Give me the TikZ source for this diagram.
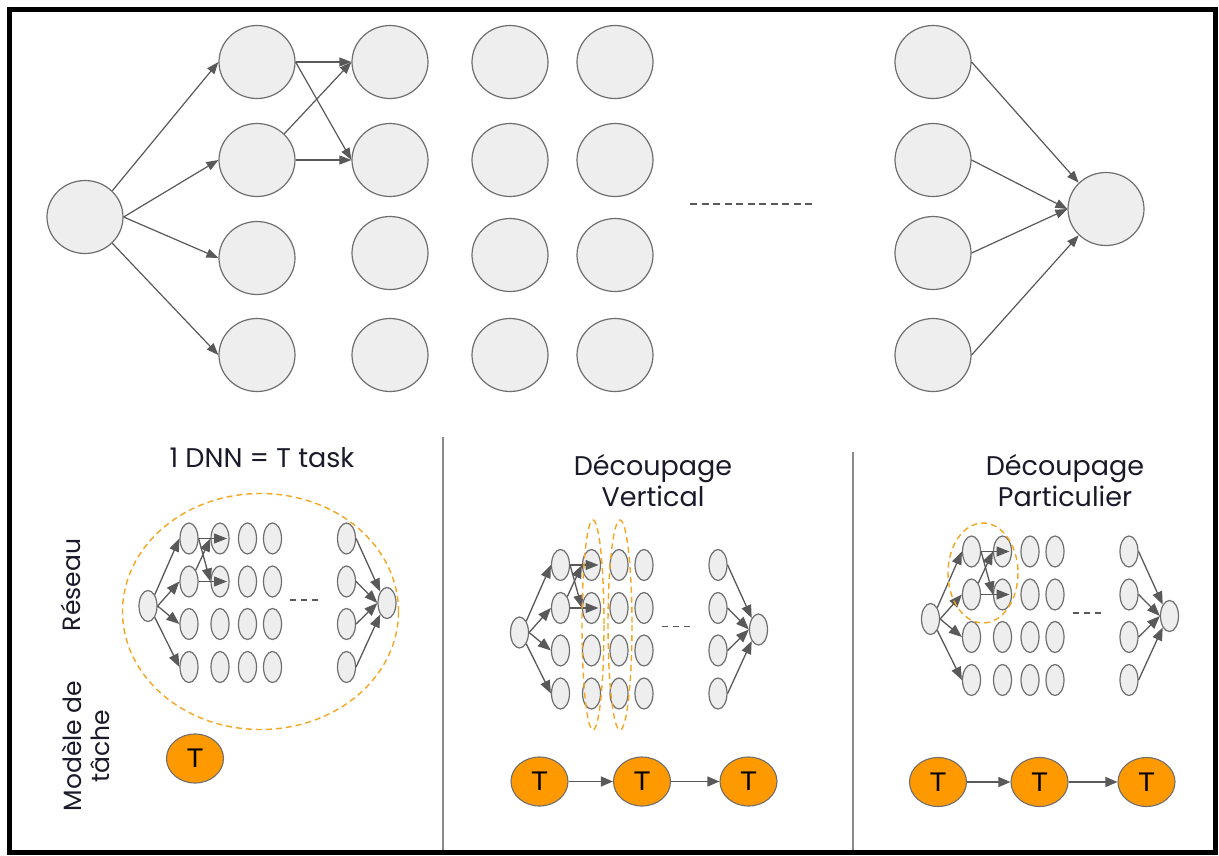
\documentclass[tikz,border=0pt]{standalone}
\usepackage{fontspec}
\setmainfont{Poppins}
\newfontfamily\tfont{Liberation Sans}
\usetikzlibrary{shapes.geometric,arrows.meta}
\definecolor{nodefill}{HTML}{EEEEEE}
\definecolor{nodeline}{HTML}{6E6E6E}
\definecolor{edgecol}{HTML}{595959}
\definecolor{torange}{HTML}{FF9900}
\definecolor{dorange}{HTML}{F5A623}
\definecolor{divcol}{HTML}{8A8A8A}
\definecolor{txtcol}{HTML}{1A1A2A}
\tikzset{
  bignode/.style={ellipse,draw=nodeline,fill=nodefill,line width=1.2pt,minimum width=76pt,minimum height=73pt,inner sep=0pt},
  smallnode/.style={ellipse,draw=nodeline,fill=nodefill,line width=1.2pt,minimum width=18pt,minimum height=31pt,inner sep=0pt},
  tasknode/.style={ellipse,draw=nodeline,fill=torange,line width=1.1pt,minimum width=57pt,minimum height=49pt,inner sep=0pt,font=\tfont\fontsize{27}{27}\selectfont},
  bigarrow/.style={draw=edgecol,line width=1.2pt,-{Triangle[length=12pt,width=9pt]}},
  smallarrow/.style={draw=edgecol,line width=1.3pt,-{Triangle[length=13pt,width=10pt]}},
  taskarrow/.style={draw=edgecol,line width=1.2pt,-{Triangle[length=12pt,width=10pt]}},
  orangedash/.style={draw=dorange,line width=1.4pt,dash pattern=on 6pt off 4pt},
  title/.style={font=\fontsize{27}{31}\selectfont,text=txtcol,align=center},
  sidelabel/.style={font=\fontsize{25}{28}\selectfont,text=txtcol,align=center,rotate=90},
}
\newcommand{\mynet}[3]{%
  \node[smallnode] (#1-in) at (#2,#3) {};
  \foreach \c/\dx in {1/41,2/72,3/99.5,4/124.5,5/198.5}{
    \foreach \r/\dy in {1/-67.5,2/-24.5,3/18,4/61}{
      \node[smallnode] (#1-\c-\r) at ({#2+\dx},{#3+\dy}) {};
    }
  }
  \node[smallnode] (#1-out) at ({#2+239},{#3-3}) {};
  \draw[smallarrow] (#1-in.north east) -- (#1-1-1.west);
  \draw[smallarrow] (#1-in.east) -- (#1-1-2.west);
  \draw[smallarrow] (#1-in.east) -- (#1-1-3.west);
  \draw[smallarrow] (#1-in.south east) -- (#1-1-4.west);
  \draw[smallarrow] (#1-5-1.east) -- (#1-out.north west);
  \draw[smallarrow] (#1-5-2.east) -- (#1-out.west);
  \draw[smallarrow] (#1-5-3.east) -- (#1-out.west);
  \draw[smallarrow] (#1-5-4.east) -- (#1-out.south west);
  \draw[smallarrow] (#1-1-1.east) -- ([xshift=7pt]#1-2-1.center);
  \draw[smallarrow] (#1-1-1.east) -- (#1-2-2.west);
  \draw[smallarrow] (#1-1-2.north east) -- (#1-2-1.west);
  \draw[smallarrow] (#1-1-2.east) -- ([xshift=7pt]#1-2-2.center);
  \draw[draw=edgecol,line width=1.1pt,dash pattern=on 6pt off 5pt] ({#2+142},{#3-6}) -- ({#2+173},{#3-6});
}
\begin{document}
\begin{tikzpicture}[x=1pt,y=-1pt]
\useasboundingbox (0,0) rectangle (1219,855);
\fill[white] (0,0) rectangle (1219,855);
% frame
\draw[line width=5pt] (9.5,9.8) rectangle (1215.8,852);
% dividers
\draw[divcol,line width=1.5pt] (443,437) -- (443,850);
\draw[divcol,line width=1.5pt] (853,452) -- (853,850);

% top network
\node[bignode] (tin) at (85,217) {};
\foreach \r/\y in {1/62,2/160,3/258,4/355}{\node[bignode] (t1-\r) at (257,\y) {};}
\foreach \r/\y in {1/62,2/160,3/253,4/355}{\node[bignode] (t2-\r) at (390,\y) {};}
\foreach \r/\y in {1/62,2/160,3/255,4/355}{\node[bignode] (t3-\r) at (510,\y) {};}
\foreach \r/\y in {1/62,2/160,3/255,4/355}{\node[bignode] (t4-\r) at (615,\y) {};}
\foreach \r/\y in {1/62,2/160,3/253,4/355}{\node[bignode] (t5-\r) at (933,\y) {};}
\node[bignode] (tout) at (1106,209) {};
\draw[bigarrow] (tin.north east) -- (t1-1.west);
\draw[bigarrow] (tin.east) -- (t1-2.west);
\draw[bigarrow] (tin.east) -- (t1-3.west);
\draw[bigarrow] (tin.south east) -- (t1-4.west);
\draw[bigarrow] (t5-1.east) -- (tout.north west);
\draw[bigarrow] (t5-2.east) -- (tout.west);
\draw[bigarrow] (t5-3.east) -- (tout.west);
\draw[bigarrow] (t5-4.east) -- (tout.south west);
\draw[bigarrow] (t1-1.east) -- (t2-1.west);
\draw[bigarrow] (t1-1.east) -- (t2-2.west);
\draw[bigarrow] (t1-2.north east) -- (t2-1.west);
\draw[bigarrow] (t1-2.east) -- (t2-2.west);
\draw[draw=edgecol,line width=1.2pt,dash pattern=on 7pt off 4.5pt] (690,204) -- (815,204);

% panel 1
\node[title] (p1title) at (262,458) {1 DNN = T task};
\node[sidelabel] (reseau) at (71,585) {Réseau};
\node[sidelabel] (modele) at (86,746) {Modèle de\\tâche};
\mynet{a}{148}{606}
\draw[orangedash] (260.5,611.5) ellipse [x radius=138, y radius=118];
\node[tasknode] (a-t) at (195,758.5) {T};

% panel 2
\node[title] (p2title) at (653,481) {Découpage\\Vertical};
\mynet{b}{519.5}{632.5}
\draw[orangedash] (593,625) ellipse [x radius=11, y radius=105];
\draw[orangedash] (620,625) ellipse [x radius=12, y radius=105];
\node[tasknode] (b-t1) at (539.5,781.5) {T};
\node[tasknode] (b-t2) at (642,781.5) {T};
\node[tasknode] (b-t3) at (748.5,781.5) {T};
\draw[taskarrow] (b-t1) -- (b-t2);
\draw[taskarrow] (b-t2) -- (b-t3);

% panel 3
\node[title] (p3title) at (1065,481) {Découpage\\Particulier};
\mynet{c}{930.5}{619}
\draw[orangedash] (983,573) ellipse [x radius=35, y radius=50];
\node[tasknode] (c-t1) at (938,782) {T};
\node[tasknode] (c-t2) at (1039.5,782) {T};
\node[tasknode] (c-t3) at (1146.5,782) {T};
\draw[taskarrow] (c-t1) -- (c-t2);
\draw[taskarrow] (c-t2) -- (c-t3);
\end{tikzpicture}
\end{document}
